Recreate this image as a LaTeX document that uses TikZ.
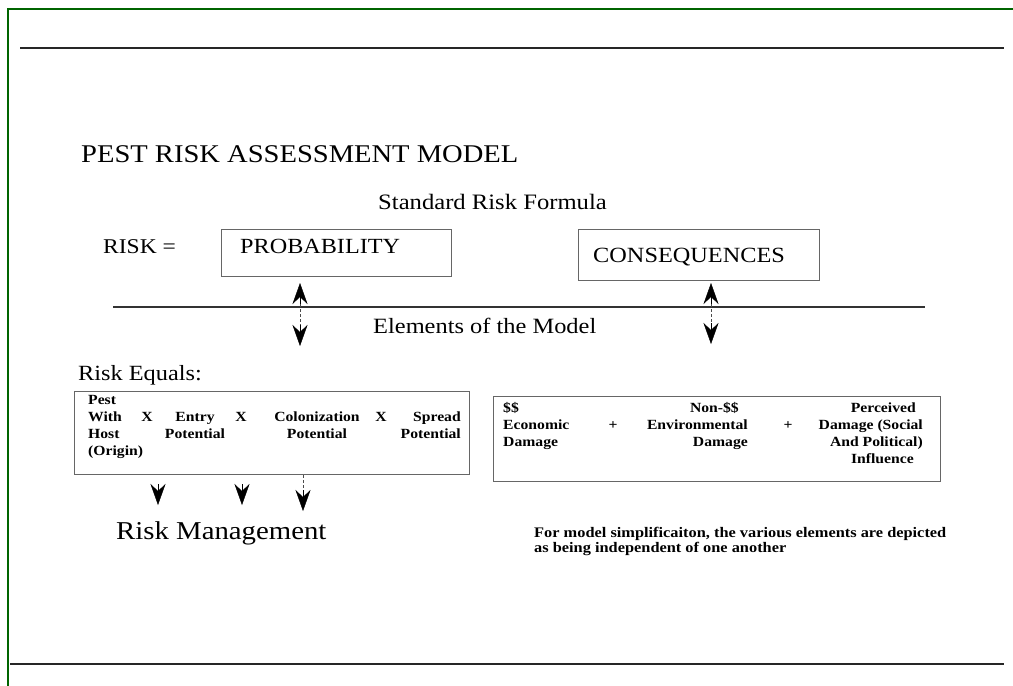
\documentclass[tikz,border=0pt]{standalone}
\usepackage{fontspec}
\setmainfont{Liberation Serif}[FakeStretch=1.12]
\usetikzlibrary{arrows.meta}
\definecolor{frame}{RGB}{0,100,0}
\tikzset{
  rule/.style={line width=2.2pt, black!85},
  boxline/.style={draw=black!60, line width=0.7pt, inner sep=0pt},
  sm/.style={font=\fontsize{14}{17}\selectfont\bfseries, inner sep=0pt},
  big/.style={inner sep=0pt, anchor=base west},
  tip/.style={-{Stealth[length=21pt,width=15pt,inset=7pt]}, black},
  stem/.style={densely dashed, line width=0.6pt, black!70},
}
\begin{document}
\begin{tikzpicture}[x=1pt,y=-1pt]
\useasboundingbox (0,0) rectangle (1013,686);
\fill[white] (0,0) rectangle (1013,686);
% green frame
\draw[frame, line width=1.5pt] (7,9) -- (1013,9);
\draw[frame, line width=1.5pt] (8,9) -- (8,686);
% black rules
\draw[rule] (20,48) -- (1004,48);
\draw[rule] (10,664) -- (1004,664);
% title
\node[big, font=\fontsize{25.5}{28}\selectfont] (title) at (81,162) {PEST RISK ASSESSMENT MODEL};
\node[big, font=\fontsize{22}{24}\selectfont] (std) at (378,209) {Standard Risk Formula};
\node[big, font=\fontsize{21}{23}\selectfont] (risk) at (103,253) {RISK =};
% boxes
\node[boxline, minimum width=230pt, minimum height=47pt] (prob) at (336,252.5) {};
\node[big, font=\fontsize{21.6}{23}\selectfont] (probt) at (240,253) {PROBABILITY};
\node[boxline, minimum width=241pt, minimum height=51pt] (cons) at (698.5,254.5) {};
\node[big, font=\fontsize{21.7}{23}\selectfont] (const) at (593,262) {CONSEQUENCES};
% elements line
\coordinate (elA) at (113,307);
\coordinate (elB) at (925,307);
\draw[line width=1.2pt, black!80] (elA) -- (elB);
\node[big, font=\fontsize{21.8}{23}\selectfont] (elem) at (373,333) {Elements of the Model};
% double arrows
\coordinate (p1) at (300,304);
\coordinate (p1t) at (300,283);
\coordinate (p2) at (300,325);
\coordinate (p2t) at (300,346);
\draw[stem] (p1) -- (p2);
\draw[tip] (p1) -- (p1t);
\draw[tip] (p2) -- (p2t);
\coordinate (c1) at (711,304);
\coordinate (c1t) at (711,283);
\coordinate (c2) at (711,323);
\coordinate (c2t) at (711,344);
\draw[stem] (c1) -- (c2);
\draw[tip] (c1) -- (c1t);
\draw[tip] (c2) -- (c2t);
% Risk equals
\node[big, font=\fontsize{21.7}{23}\selectfont] (req) at (78,380) {Risk Equals:};
\node[boxline, minimum width=395pt, minimum height=83pt] (lbox) at (272,432.5) {};
\node[boxline, minimum width=447pt, minimum height=85pt] (rbox) at (716.5,438.5) {};
% left box text
\node[sm, anchor=base west, align=left] (pest) at (88,455) {Pest\\With\\Host\\(Origin)};
\node[sm, anchor=base] (x1) at (147,421) {X};
\node[sm, anchor=base, align=center] (entry) at (195,438) {Entry\\Potential};
\node[sm, anchor=base] (x2) at (241,421) {X};
\node[sm, anchor=base, align=center] (colon) at (317,438) {Colonization\\Potential};
\node[sm, anchor=base] (x3) at (381,421) {X};
\node[sm, anchor=base east, align=right] (spread) at (461,438) {Spread\\Potential};
% right box text
\node[sm, anchor=base west, align=left] (econ) at (503,446) {\$\$\\Economic\\Damage};
\node[sm, anchor=base] (plus1) at (613,429) {+};
\node[sm, anchor=base east, align=right] (env) at (748,446) {Non-\$\$\kern9pt\\Environmental\\Damage};
\node[sm, anchor=base] (plus2) at (788,429) {+};
\node[sm, anchor=base east, align=right] (perc) at (923,463) {Perceived\kern7pt\\Damage (Social\\And Political)\\Influence\kern9pt};
% arrows to risk management
\coordinate (m1) at (158,484);
\coordinate (m1t) at (158,505);
\coordinate (m2) at (242,484);
\coordinate (m2t) at (242,505);
\coordinate (m3s) at (303,475);
\coordinate (m3) at (303,490);
\coordinate (m3t) at (303,511);
\draw[tip] (m1) -- (m1t);
\draw[tip] (m2) -- (m2t);
\draw[stem] (m3s) -- (m3);
\draw[tip] (m3) -- (m3t);
\node[big, font=\fontsize{25.7}{28}\selectfont] (rm) at (116,539) {Risk Management};
% note
\node[inner sep=0pt, font=\fontsize{14.6}{15}\selectfont\bfseries, anchor=base west, align=left] (note) at (534,552)
  {For model simplificaiton, the various elements are depicted\\as being independent of one another};
\end{tikzpicture}
\end{document}
